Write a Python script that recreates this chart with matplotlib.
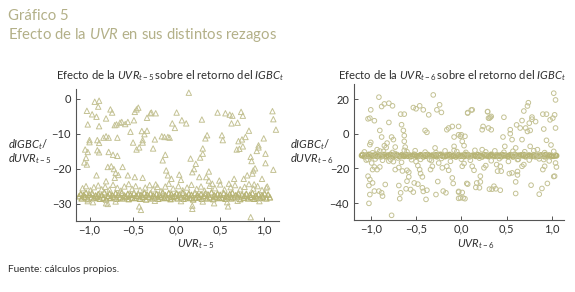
import matplotlib
matplotlib.use("Agg")
import matplotlib.pyplot as plt
from matplotlib.ticker import FixedLocator, FixedFormatter

plt.rcParams['font.family'] = ['Lato', 'DejaVu Sans']
plt.rcParams['mathtext.fontset'] = 'custom'
plt.rcParams['mathtext.rm'] = 'Lato'
plt.rcParams['mathtext.it'] = 'Lato:italic'
plt.rcParams['mathtext.bf'] = 'Lato:bold'

# ---------------- data ----------------
# Left panel: scattered effects of UVR_{t-5}
left_points = [
    (-1.03,-3.4),(-1.02,-7.3),(-1.00,-11.8),(-1.00,-12.4),(-1.05,-14.5),(-1.02,-15.2),(-1.04,-16.9),
    (-1.06,-18.2),(-1.03,-18.8),(-0.97,-4.4),(-0.94,-0.8),(-0.89,-0.5),(-0.90,-2.2),(-0.92,-5.1),
    (-0.89,-7.8),(-0.91,-11.8),(-0.89,-12.6),(-0.91,-14.7),(-0.89,-15.3),(-0.84,-11.1),(-0.81,-10.7),
    (-0.78,-11.1),(-0.81,-5.6),(-0.76,-3.0),(-0.74,-3.9),(-0.71,-7.5),(-0.69,-7.3),(-0.65,-6.8),
    (-0.63,-6.6),(-0.68,-11.1),(-0.78,-15.2),(-0.73,-16.0),(-0.68,-16.3),(-0.79,-19.5),(-0.75,-19.3),
    (-0.72,-20.1),(-0.70,-21.2),(-0.67,-21.8),(-0.71,-22.6),(-0.62,-19.5),(-0.59,-7.2),(-0.56,-6.6),
    (-0.53,-9.4),(-0.50,-12.5),(-0.48,-3.7),(-0.46,-3.0),(-0.44,-2.5),(-0.49,-6.1),(-0.46,-14.5),
    (-0.43,-13.9),(-0.40,-9.2),(-0.37,-10.1),(-0.39,-11.8),(-0.39,-12.5),(-0.34,-9.1),(-0.34,-5.4),
    (-0.30,-4.1),(-0.29,-3.9),(-0.24,-4.1),(-0.27,-14.2),(-0.25,-11.6),(-0.17,-10.7),(-0.14,-10.9),
    (-0.10,-10.9),(-0.08,-11.1),(-0.16,-17.6),(-0.13,-16.0),(-0.12,-20.5),(-0.10,-21.9),(-0.05,-7.0),
    (-0.02,-8.3),(0.00,-3.9),(0.06,-6.1),(0.11,-7.0),(0.14,1.8),(0.16,-17.1),(0.22,-18.6),(0.20,-20.1),
    (0.29,-5.9),(0.30,-14.2),(0.30,-15.7),(0.27,-16.8),(0.37,-20.8),(0.35,-10.4),(0.33,-11.3),
    (0.34,-22.4),(0.37,-23.4),(0.47,-3.9),(0.52,-10.4),(0.53,-11.8),(0.56,-4.1),(0.61,-4.5),(0.64,-4.8),
    (0.63,-7.0),(0.70,-6.8),(0.66,-22.9),(0.74,-3.7),(0.76,-4.8),(0.71,-12.1),(0.75,-11.6),(0.79,-10.9),
    (0.69,-14.5),(0.72,-14.3),(0.76,-13.6),(0.83,-9.1),(0.85,-16.6),(0.86,-17.8),(0.88,-20.5),
    (0.90,-19.9),(0.92,-14.9),(0.94,-13.3),(0.94,-13.9),(1.00,-11.3),(1.02,-15.7),(1.10,-3.5),
    (1.11,-5.8),(1.14,-8.8),(1.11,-20.3),(1.02,-18.4),(0.87,-21.4),(0.81,-21.9),(0.77,-22.9),
    (0.60,-24.3),(0.26,-22.4),(0.18,-21.0),(0.03,-21.7),(0.05,-23.2),(-0.06,-22.9),(-0.24,-24.5),
    (-0.39,-22.6),(-0.48,-22.4),(-0.56,-21.9),(-0.92,-21.9),(-0.81,-23.6),(-0.96,-29.6),(-0.81,-29.9),
    (-0.79,-30.1),(-0.43,-30.8),(-0.41,-31.8),(0.18,-30.6),(0.18,-31.5),(0.43,-29.9),(0.58,-29.6),
    (0.59,-30.8),(0.85,-33.9),(0.41,-24.3),(0.49,-23.4),(0.89,-24.5),(0.98,-22.9),(1.04,-25.1),
    (-1.08,-25.6),(-1.04,-25.0),(-0.99,-26.2),(-0.95,-25.3),(-0.90,-24.8),(-0.86,-25.9),(-0.82,-25.2),
    (-0.77,-26.0),(-0.73,-24.6),(-0.68,-25.5),(-0.64,-26.3),(-0.60,-25.1),(-0.55,-24.4),(-0.51,-25.8),
    (-0.47,-25.0),(-0.42,-26.1),(-0.36,-25.4),(-0.31,-24.7),(-0.27,-25.9),(-0.22,-25.2),(-0.18,-26.4),
    (-0.13,-25.1),(-0.09,-24.3),(-0.04,-25.7),(0.02,-25.0),(0.07,-26.2),(0.12,-25.4),(0.17,-24.6),
    (0.23,-25.8),(0.28,-25.1),(0.32,-26.3),(0.38,-24.9),(0.44,-25.6),(0.50,-24.5),(0.55,-26.0),
    (0.62,-25.3),(0.67,-24.7),(0.73,-25.9),(0.78,-25.2),(0.83,-24.4),(0.88,-25.7),(0.93,-25.0),
    (0.98,-26.1),(1.03,-25.4),(-1.02,-29.3),(-0.70,-29.4),(-0.25,-29.2),(0.05,-29.3),(0.30,-29.4),
    (0.70,-29.2),(0.95,-29.3),
]

# Left panel: dense band of points near -28
left_band_x = [
    -1.12,-1.10,-1.09,-1.07,-1.05,-1.04,-1.02,-1.00,-0.98,-0.97,-0.95,-0.93,-0.91,-0.90,-0.88,-0.86,
    -0.84,-0.83,-0.81,-0.79,-0.77,-0.76,-0.74,-0.72,-0.70,-0.69,-0.67,-0.65,-0.63,-0.62,-0.60,-0.58,
    -0.56,-0.55,-0.53,-0.51,-0.49,-0.48,-0.46,-0.44,-0.42,-0.41,-0.39,-0.37,-0.35,-0.34,-0.32,-0.30,
    -0.28,-0.27,-0.25,-0.23,-0.21,-0.20,-0.18,-0.16,-0.14,-0.13,-0.11,-0.09,-0.07,-0.06,-0.04,-0.02,
    0.00,0.01,0.03,0.05,0.07,0.08,0.10,0.12,0.14,0.15,0.17,0.19,0.21,0.22,0.24,0.26,0.28,0.29,0.31,
    0.33,0.35,0.36,0.38,0.40,0.42,0.43,0.45,0.47,0.49,0.50,0.52,0.54,0.56,0.57,0.59,0.61,0.63,0.64,
    0.66,0.68,0.70,0.71,0.73,0.75,0.77,0.78,0.80,0.82,0.84,0.85,0.87,0.89,0.91,0.92,0.94,0.96,0.98,
    0.99,1.01,1.03,1.05,1.07,
]
left_band_y = [
    -27.9,-27.2,-28.5,-27.6,-28.1,-26.9,-28.7,-27.4,-28.2,-27.0,-28.4,-27.7,-28.0,-27.3,-28.6,-27.5,
    -28.3,-26.8,-28.8,-27.8,-27.1,-28.4,-27.6,-28.1,-27.0,-28.6,-27.4,-28.2,-26.9,-28.5,-27.7,-28.0,
    -27.2,-28.7,-27.5,-28.3,-27.0,-28.4,-27.8,-27.3,-28.6,-27.6,-28.1,-26.9,-28.8,-27.4,-28.0,-27.1,
    -28.5,-27.7,-28.2,-27.2,-28.6,-27.5,-28.0,-26.8,-28.4,-27.6,-28.3,-27.0,-28.7,-27.3,-28.1,-27.8,
    -27.1,-28.5,-27.4,-28.2,-26.9,-28.6,-27.7,-28.0,-27.2,-28.4,-27.5,-28.8,-27.0,-28.3,-27.6,-28.1,
    -27.3,-28.6,-27.8,-27.1,-28.5,-27.4,-28.2,-26.8,-28.7,-27.6,-28.0,-27.2,-28.4,-27.5,-28.3,-27.0,
    -28.6,-27.7,-28.1,-27.3,-28.5,-26.9,-28.2,-27.6,-28.0,-27.1,-28.7,-27.4,-28.3,-27.8,-27.2,-28.5,
    -27.5,-28.1,-27.0,-28.6,-27.7,-28.2,-27.3,-28.4,-27.6,-28.0,-27.1,-28.5,-27.4,-28.2,-27.8,-28.0,
]

# Right panel: scattered effects of UVR_{t-6}
right_points = [
    (-1.03,8.6),(-1.01,9.0),(-1.00,13.8),(-0.96,7.5),(-1.01,-6.3),(-1.00,-5.0),(-1.03,-14.9),
    (-0.99,-16.9),(-0.98,-20.7),(-0.96,-19.2),(-1.03,-24.5),(-1.01,-26.4),(-0.98,-28.4),(-1.02,-29.9),
    (-1.01,-35.1),(-0.96,-33.1),(-1.02,-40.2),(-0.91,21.1),(-0.88,15.7),(-0.85,17.2),(-0.80,17.6),
    (-0.76,16.1),(-0.90,1.9),(-0.88,-1.9),(-0.85,-6.9),(-0.82,-5.4),(-0.83,-8.0),(-0.93,-9.2),
    (-0.90,-10.0),(-0.89,-13.4),(-0.87,-15.3),(-0.93,-20.7),(-0.90,-19.2),(-0.91,-33.1),(-0.88,-34.1),
    (-0.87,-36.0),(-0.84,-29.3),(-0.80,6.5),(-0.77,-1.9),(-0.75,-3.4),(-0.73,-7.7),(-0.73,-11.5),
    (-0.78,-14.9),(-0.75,-16.1),(-0.73,-20.7),(-0.69,-19.5),(-0.77,-47.1),(-0.69,-29.9),(-0.67,-34.1),
    (-0.68,-37.5),(-0.67,11.3),(-0.63,11.3),(-0.66,5.2),(-0.64,1.9),(-0.63,-1.1),(-0.63,-4.4),
    (-0.62,-7.7),(-0.63,-9.6),(-0.60,-21.1),(-0.58,-22.2),(-0.58,-24.9),(-0.60,-27.4),(-0.61,-31.8),
    (-0.56,-32.2),(-0.53,-33.7),(-0.65,-21.5),(-0.53,15.1),(-0.50,14.4),(-0.46,16.1),(-0.42,13.8),
    (-0.50,-16.1),(-0.48,-18.4),(-0.46,-20.7),(-0.45,-23.0),(-0.43,-24.9),(-0.52,-28.4),(-0.48,-29.1),
    (-0.43,-31.2),(-0.42,-33.3),(-0.40,1.9),(-0.38,0.8),(-0.36,10.9),(-0.35,-14.9),(-0.34,-20.7),
    (-0.32,-18.8),(-0.38,-32.6),(-0.39,-37.9),(-0.31,22.4),(-0.29,-8.2),(-0.27,13.8),(-0.24,16.7),
    (-0.22,12.3),(-0.25,-16.9),(-0.26,-27.6),(-0.28,-35.1),(-0.21,-19.7),(-0.20,-33.1),(-0.17,-34.1),
    (-0.16,2.3),(-0.14,3.3),(-0.16,-18.8),(-0.14,-21.1),(-0.10,4.2),(-0.08,-1.9),(-0.08,-7.3),
    (-0.10,-25.5),(-0.09,-28.7),(-0.08,-9.6),(-0.03,-33.7),(-0.01,-37.0),(0.04,-37.5),(-0.03,-0.6),
    (-0.01,-1.5),(0.01,-4.4),(0.03,-6.9),(0.01,-18.8),(0.03,-17.2),(0.06,-28.7),(0.07,11.9),(0.12,13.8),
    (0.09,-13.0),(0.12,-18.8),(0.14,-21.1),(0.17,-28.4),(0.20,-31.2),(0.21,-24.5),(0.23,-9.2),
    (0.25,-19.7),(0.27,-18.4),(0.30,3.3),(0.33,2.3),(0.29,12.8),(0.31,9.0),(0.33,10.0),(0.36,-30.3),
    (0.38,-31.8),(0.39,-17.8),(0.40,-21.6),(0.43,-18.8),(0.44,-21.6),(0.46,-1.9),(0.48,-7.3),
    (0.53,-23.0),(0.56,-22.6),(0.54,0.0),(0.58,-12.1),(0.60,-8.2),(0.62,-21.8),(0.62,-23.8),
    (0.62,-14.9),(0.65,3.3),(0.67,-3.4),(0.67,-18.8),(0.69,-17.8),(0.71,3.3),(0.73,1.3),(0.75,6.1),
    (0.76,-7.3),(0.78,9.6),(0.84,-9.2),(0.85,-12.3),(0.82,-13.4),(0.90,-20.7),(0.91,-14.9),(0.92,-18.8),
    (0.94,-3.8),(0.98,8.0),(1.01,9.0),(1.02,23.4),(1.04,19.5),(1.03,10.9),(1.04,3.3),(1.04,-16.9),
    (1.05,-19.2),(0.99,-6.5),(1.03,-24.5),(0.95,-28.7),(0.74,17.9),(0.73,16.0),(0.69,13.1),(0.78,8.4),
    (0.82,7.0),(0.90,11.3),(0.94,11.3),(0.91,2.7),(0.76,1.9),(0.61,5.1),(0.67,7.6),(0.54,2.3),
    (0.56,-3.4),(0.47,9.5),(0.29,12.7),(0.30,9.0),(0.32,9.5),(0.23,2.3),(0.24,4.2),(0.07,12.2),
    (0.11,13.7),(-0.03,4.2),(0.00,-0.6),(0.04,-1.5),(0.07,-29.1),(0.16,-31.0),(0.21,-27.8),(0.31,-32.0),
    (0.34,-32.0),(0.43,-32.6),(0.60,-27.8),(0.60,-34.5),(0.77,-29.7),(0.86,-34.9),(0.89,-31.6),
    (1.02,-24.7),(-0.03,-33.3),(0.01,-33.9),(0.02,-37.1),(-0.03,-37.3),
    (-1.07,-10.5),(-1.05,-15.2),(-0.98,-11.0),(-0.95,-14.6),(-0.86,-10.2),(-0.80,-15.8),(-0.76,-10.8),
    (-0.70,-14.0),(-0.66,-16.5),(-0.60,-10.4),(-0.55,-15.0),(-0.51,-9.8),(-0.45,-14.8),(-0.40,-10.6),
    (-0.33,-15.5),(-0.28,-10.9),(-0.22,-14.3),(-0.18,-9.9),(-0.12,-15.9),(-0.05,-10.3),(0.00,-14.7),
    (0.05,-10.8),(0.10,-15.3),(0.15,-9.6),(0.20,-14.1),(0.27,-10.5),(0.33,-15.6),(0.37,-9.9),
    (0.42,-14.4),(0.47,-10.7),(0.52,-16.0),(0.57,-10.1),(0.63,-14.8),(0.70,-10.4),(0.75,-15.2),
    (0.80,-9.8),(0.86,-14.5),(0.92,-10.9),(0.97,-15.7),(1.02,-10.2),
]

# Right panel: dense band of points near -12.7
right_band_x = [
    -1.10,-1.09,-1.07,-1.05,-1.04,-1.02,-1.00,-0.99,-0.97,-0.95,-0.93,-0.92,-0.90,-0.88,-0.87,-0.85,
    -0.83,-0.81,-0.80,-0.78,-0.76,-0.75,-0.73,-0.71,-0.69,-0.68,-0.66,-0.64,-0.63,-0.61,-0.59,-0.57,
    -0.56,-0.54,-0.52,-0.51,-0.49,-0.47,-0.45,-0.44,-0.42,-0.40,-0.39,-0.37,-0.35,-0.33,-0.32,-0.30,
    -0.28,-0.27,-0.25,-0.23,-0.21,-0.20,-0.18,-0.16,-0.15,-0.13,-0.11,-0.09,-0.08,-0.06,-0.04,-0.03,
    -0.01,0.01,0.03,0.04,0.06,0.08,0.09,0.11,0.13,0.15,0.16,0.18,0.20,0.21,0.23,0.25,0.27,0.28,0.30,
    0.32,0.33,0.35,0.37,0.39,0.40,0.42,0.44,0.45,0.47,0.49,0.51,0.52,0.54,0.56,0.57,0.59,0.61,0.63,
    0.64,0.66,0.68,0.69,0.71,0.73,0.75,0.76,0.78,0.80,0.81,0.83,0.85,0.87,0.88,0.90,0.92,0.93,0.95,
    0.97,0.99,1.00,1.02,1.04,1.05,
]
right_band_y = [
    -12.6,-12.1,-13.2,-12.4,-12.9,-12.0,-13.3,-12.5,-12.8,-12.2,-13.1,-12.7,-12.3,-13.0,-12.6,-12.1,
    -13.2,-12.4,-12.9,-12.0,-12.7,-13.3,-12.5,-12.2,-12.8,-13.1,-12.3,-12.6,-13.0,-12.1,-12.9,-12.4,
    -13.2,-12.7,-12.0,-12.5,-13.1,-12.8,-12.2,-12.6,-13.3,-12.3,-12.9,-12.1,-12.7,-13.0,-12.4,-12.8,
    -12.2,-13.2,-12.5,-12.0,-12.9,-12.6,-13.1,-12.3,-12.7,-12.1,-13.0,-12.8,-12.4,-13.3,-12.6,-12.2,
    -12.9,-12.5,-13.1,-12.0,-12.7,-12.3,-13.2,-12.8,-12.4,-12.6,-13.0,-12.1,-12.9,-12.5,-13.3,-12.2,
    -12.7,-12.4,-13.1,-12.8,-12.0,-12.6,-13.0,-12.3,-12.9,-12.5,-13.2,-12.1,-12.7,-12.4,-13.1,-12.8,
    -12.2,-12.6,-13.3,-12.0,-12.9,-12.5,-13.0,-12.3,-12.7,-12.1,-13.2,-12.6,-12.4,-12.8,-13.1,-12.2,
    -12.9,-12.5,-13.0,-12.7,-12.3,-12.6,-13.2,-12.1,-12.8,-12.4,-13.1,-12.6,-12.9,-12.5,-12.7,-12.6,
]

left_xticks = [-1.0, -0.5, 0.0, 0.5, 1.0]
left_xticklabels = ["\u22121,0", "\u22120,5", "0,0", "0,5", "1,0"]
left_yticks = [0, -10, -20, -30]
left_yticklabels = ["0", "\u221210", "\u221220", "\u221230"]
right_xticks = [-1.0, -0.5, 0.0, 0.5, 1.0]
right_xticklabels = ["\u22121,0", "\u22120,5", "0,0", "0,5", "1,0"]
right_yticks = [20, 0, -20, -40]
right_yticklabels = ["20", "0", "\u221220", "\u221240"]

# ---------------- styling ----------------
W, H = 575, 292
fig = plt.figure(figsize=(W / 100, H / 100), dpi=100)
fig.patch.set_facecolor("white")

HEAD_COLOR = "#b3b088"
MARK_COLOR = "#c4c294"
BAND_COLOR = "#b7b475"
AX_COLOR = "#555555"
TXT_COLOR = "#2e2e2e"


def px_axes(l, t, r, b):
    return fig.add_axes([l / W, 1 - b / H, (r - l) / W, (b - t) / H])


def style(ax, xt, xtl, yt, ytl, xlim, ylim):
    ax.set_xlim(*xlim)
    ax.set_ylim(*ylim)
    for s in ["top", "right"]:
        ax.spines[s].set_visible(False)
    for s in ["left", "bottom"]:
        ax.spines[s].set_color(AX_COLOR)
        ax.spines[s].set_linewidth(0.8)
    ax.xaxis.set_major_locator(FixedLocator(xt))
    ax.xaxis.set_major_formatter(FixedFormatter(xtl))
    ax.yaxis.set_major_locator(FixedLocator(yt))
    ax.yaxis.set_major_formatter(FixedFormatter(ytl))
    ax.tick_params(direction="in", length=3, width=0.7, color=AX_COLOR,
                   labelsize=8, labelcolor=TXT_COLOR)
    ax.tick_params(axis="x", pad=2.5)
    ax.tick_params(axis="y", pad=3.5)
    ax.patch.set_alpha(0)


def fpx(x, y, s, **kw):
    fig.text(x / W, 1 - y / H, s, **kw)


# Left panel
axL = px_axes(76, 88.5, 279, 221)
style(axL, left_xticks, left_xticklabels, left_yticks, left_yticklabels,
      (-1.155, 1.175), (-35.0, 3.0))
bx, by = zip(*zip(left_band_x, left_band_y))
axL.scatter(bx, by, marker="^", s=15, facecolors="none", edgecolors=BAND_COLOR,
            linewidths=0.9, clip_on=False)
lx, ly = zip(*left_points)
axL.scatter(lx, ly, marker="^", s=15, facecolors="none", edgecolors=MARK_COLOR,
            linewidths=0.7, clip_on=False)

# Right panel
axR = px_axes(354, 84, 563.5, 220)
style(axR, right_xticks, right_xticklabels, right_yticks, right_yticklabels,
      (-1.185, 1.128), (-49.8, 28.7))
bx, by = zip(*zip(right_band_x, right_band_y))
axR.scatter(bx, by, marker="o", s=11, facecolors="none", edgecolors=BAND_COLOR,
            linewidths=1.0, clip_on=False)
rx, ry = zip(*right_points)
axR.scatter(rx, ry, marker="o", s=11, facecolors="none", edgecolors=MARK_COLOR,
            linewidths=0.7, clip_on=False)

# Headings
fpx(8, 20.5, "Gráfico 5", fontsize=10.7, color=HEAD_COLOR, va="baseline")
fpx(8, 38.8, r"Efecto de la $\mathit{UVR}$ en sus distintos rezagos", fontsize=10.7,
    color=HEAD_COLOR, va="baseline")

# Panel titles
TS = 8.1
fpx(169.5, 79, r"Efecto de la $\mathit{UVR}_{t-5}\,$sobre el retorno del $\mathit{IGBC}_t$",
    fontsize=TS, color=TXT_COLOR, ha="center", va="baseline")
fpx(452, 79, r"Efecto de la $\mathit{UVR}_{t-6}\,$sobre el retorno del $\mathit{IGBC}_t$",
    fontsize=TS, color=TXT_COLOR, ha="center", va="baseline")

# Y labels
for x0, lag in [(8, "5"), (290, "6")]:
    fpx(x0, 148, r"$dIGBC_t/$", fontsize=TS, color=TXT_COLOR, va="baseline")
    fpx(x0, 162, r"$dUVR_{t-" + lag + "}$", fontsize=TS, color=TXT_COLOR, va="baseline")

# X labels
fpx(177, 247, r"$\mathit{UVR}_{t-5}$", fontsize=TS, color=TXT_COLOR, va="baseline")
fpx(457, 247, r"$\mathit{UVR}_{t-6}$", fontsize=TS, color=TXT_COLOR, va="baseline")

# Source
fpx(8, 271.5, "Fuente: cálculos propios.", fontsize=7.4, color=TXT_COLOR, va="baseline")

fig.savefig("out.png", dpi=100, facecolor="white")
